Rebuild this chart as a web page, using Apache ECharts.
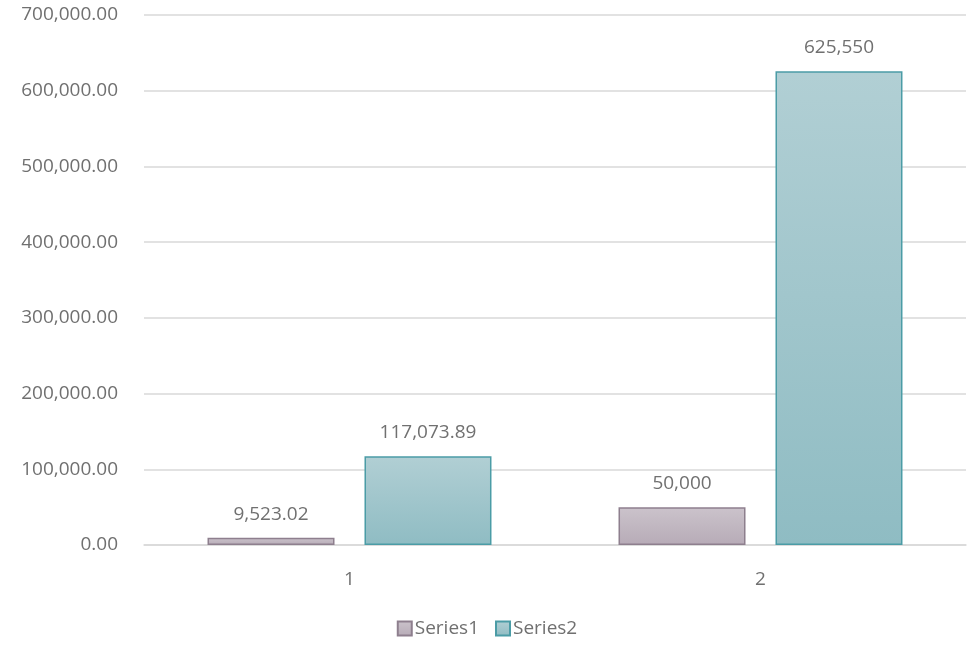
<!DOCTYPE html>
<html>
<head>
<meta charset="utf-8">
<script src="https://cdn.jsdelivr.net/npm/echarts@6/dist/echarts.min.js"></script>
<style>
  html, body { margin: 0; padding: 0; background: #fff; }
  #chart { width: 974px; height: 649px; }
</style>
</head>
<body>
<div id="chart"></div>
<script>
// Categories and values
const categories = ['1', '2'];
const series1Values = [9523.02, 50000];
const series2Values = [117073.89, 625550];
const series1Labels = ['9,523.02', '50,000'];
const series2Labels = ['117,073.89', '625,550'];
const yTicks = { min: 0, max: 700000, interval: 100000 };

const FONT = '"Open Sans", "Noto Sans", sans-serif';
const TEXT = '#707070';
const SIZE = 19;

function grad(top, bottom) {
  return new echarts.graphic.LinearGradient(0, 0, 0, 1, [
    { offset: 0, color: top },
    { offset: 1, color: bottom }
  ]);
}

function makeData(values, labels) {
  return values.map((v, i) => ({ value: v, label: { formatter: labels[i] } }));
}

const chart = echarts.init(document.getElementById('chart'), null, { renderer: 'canvas' });
chart.setOption({
  animation: false,
  textStyle: { fontFamily: FONT },
  grid: { left: 144, right: 8, top: 15, bottom: 104, containLabel: false },
  legend: {
    bottom: 6,
    left: 'center',
    icon: 'rect',
    itemWidth: 14,
    itemHeight: 14,
    itemGap: 16,
    textStyle: { color: TEXT, fontSize: SIZE, fontFamily: FONT, padding: [0, 0, 0, -2] },
    data: ['Series1', 'Series2']
  },
  xAxis: {
    type: 'category',
    data: categories,
    axisLine: { lineStyle: { color: '#d9d9d9', width: 1.5 } },
    axisTick: { show: false },
    axisLabel: { color: TEXT, fontSize: SIZE, margin: 25 }
  },
  yAxis: {
    type: 'value',
    min: yTicks.min,
    max: yTicks.max,
    interval: yTicks.interval,
    axisLine: { show: false },
    axisTick: { show: false },
    splitLine: { lineStyle: { color: '#d9d9d9', width: 1.5 } },
    axisLabel: {
      color: TEXT,
      fontSize: SIZE,
      margin: 26,
      formatter: v => v.toLocaleString('en-US', { minimumFractionDigits: 2, maximumFractionDigits: 2 })
    }
  },
  series: [
    {
      name: 'Series1',
      type: 'bar',
      data: makeData(series1Values, series1Labels),
      barWidth: 127,
      barGap: '23.6%',
      itemStyle: {
        color: grad('#cbc3cb', '#b7abb7'),
        borderColor: '#8e7f8e',
        borderWidth: 1.5
      },
      label: { show: true, position: 'top', distance: 14, color: TEXT, fontSize: SIZE, fontFamily: FONT }
    },
    {
      name: 'Series2',
      type: 'bar',
      data: makeData(series2Values, series2Labels),
      barWidth: 127,
      itemStyle: {
        color: grad('#b1cfd4', '#8fbcc3'),
        borderColor: '#4b9ca6',
        borderWidth: 1.5
      },
      label: { show: true, position: 'top', distance: 14, color: TEXT, fontSize: SIZE, fontFamily: FONT }
    }
  ]
});
</script>
</body>
</html>
